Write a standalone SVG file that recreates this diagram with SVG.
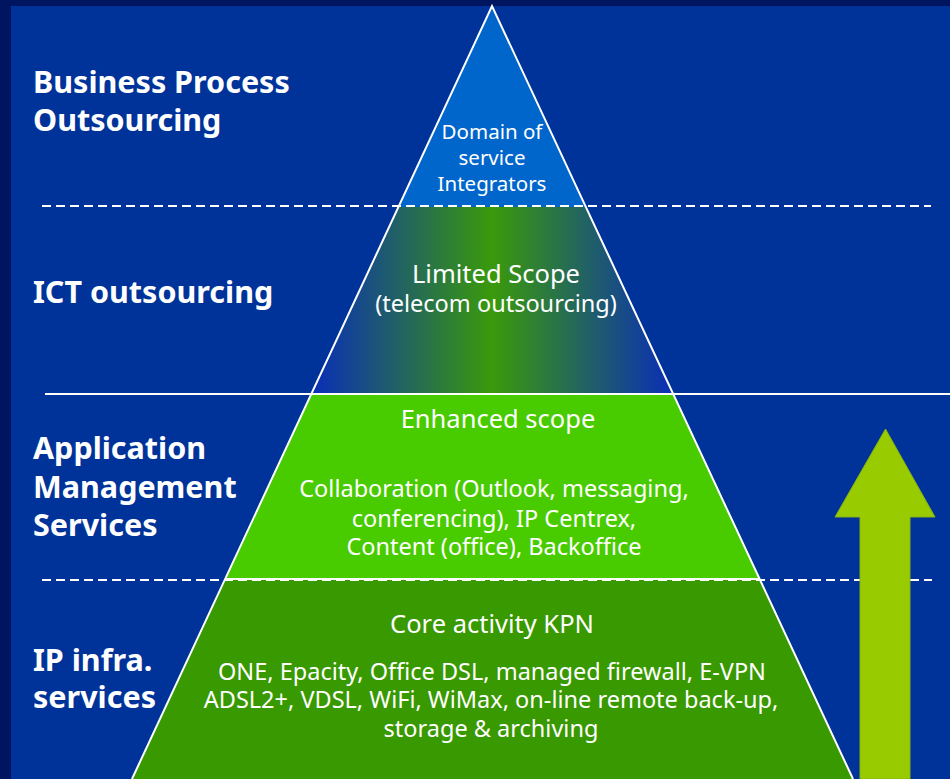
<svg xmlns="http://www.w3.org/2000/svg" width="950" height="779" viewBox="0 0 950 779">
<style>
.lbl{font-family:"Noto Sans","Open Sans",sans-serif;font-weight:bold;font-size:30.5px;fill:#fff}
.txt{font-family:"Noto Sans","Open Sans",sans-serif;font-size:23.5px;fill:#fff;text-anchor:middle}
.sm{font-size:20.5px}
.hd{font-size:25.5px}
.dash{stroke:#fff;stroke-width:2;stroke-dasharray:9 5;fill:none}
.edge{stroke:#fff;stroke-width:2;fill:none}
</style>
<defs>
<linearGradient id="g2" x1="311" y1="0" x2="674" y2="0" gradientUnits="userSpaceOnUse">
<stop offset="0" stop-color="#0a2db8"/>
<stop offset="0.5" stop-color="#3a9a0a"/>
<stop offset="1" stop-color="#0a2db8"/>
</linearGradient>
</defs>
<rect width="950" height="779" fill="#001560"/>
<rect x="11" y="6" width="939" height="773" fill="#003399"/>
<g id="layer-top"><polygon points="492,6 586.3,207 398.7,207" fill="#0066cc"/>
<text class="txt sm" x="492" y="139">Domain of</text>
<text class="txt sm" x="492" y="165">service</text>
<text class="txt sm" x="492" y="191">Integrators</text></g>
<g id="layer-ict"><polygon points="398.7,207 586.3,207 673.5,394 311.5,394" fill="url(#g2)"/>
<text class="txt hd" x="496" y="283">Limited Scope</text>
<text class="txt" x="496" y="312">(telecom outsourcing)</text></g>
<g id="layer-app"><polygon points="311.5,394 673.5,394 760,579 225,579" fill="#48cc00"/>
<text class="txt hd" x="498" y="428">Enhanced scope</text>
<text class="txt" x="494" y="497">Collaboration (Outlook, messaging,</text>
<text class="txt" x="494" y="527">conferencing), IP Centrex,</text>
<text class="txt" x="494" y="555">Content (office), Backoffice</text></g>
<g id="layer-ip"><polygon points="225,579 760,579 853,779 132,779" fill="#389900"/>
<text class="txt hd" x="492" y="633">Core activity KPN</text>
<text class="txt" x="492" y="680">ONE, Epacity, Office DSL, managed firewall, E-VPN</text>
<text class="txt" x="491" y="708">ADSL2+, VDSL, WiFi, WiMax, on-line remote back-up,</text>
<text class="txt" x="491" y="737">storage &amp; archiving</text></g>
<g id="connectors">
<line class="dash" x1="42" y1="206" x2="931" y2="206"/>
<line class="dash" x1="42" y1="580" x2="932" y2="580"/>
<line class="edge" x1="45" y1="394" x2="950" y2="394"/>
<line class="edge" x1="225" y1="579" x2="760" y2="579"/>
<polyline class="edge" points="132,779 492,6 853,779"/>
</g>
<g id="arrow"><polygon points="860,779 860,517 835,517 885.5,429 935,517 910,517 910,779" fill="#99cc00" stroke="#88b010" stroke-width="1"/></g>
<g id="labels">
<text class="lbl" x="33" y="93">Business Process</text>
<text class="lbl" x="33" y="131">Outsourcing</text>
<text class="lbl" x="33" y="303">ICT outsourcing</text>
<text class="lbl" x="33" y="459">Application</text>
<text class="lbl" x="33" y="498">Management</text>
<text class="lbl" x="33" y="536">Services</text>
<text class="lbl" x="33" y="671">IP infra.</text>
<text class="lbl" x="33" y="708">services</text>
</g>
</svg>
